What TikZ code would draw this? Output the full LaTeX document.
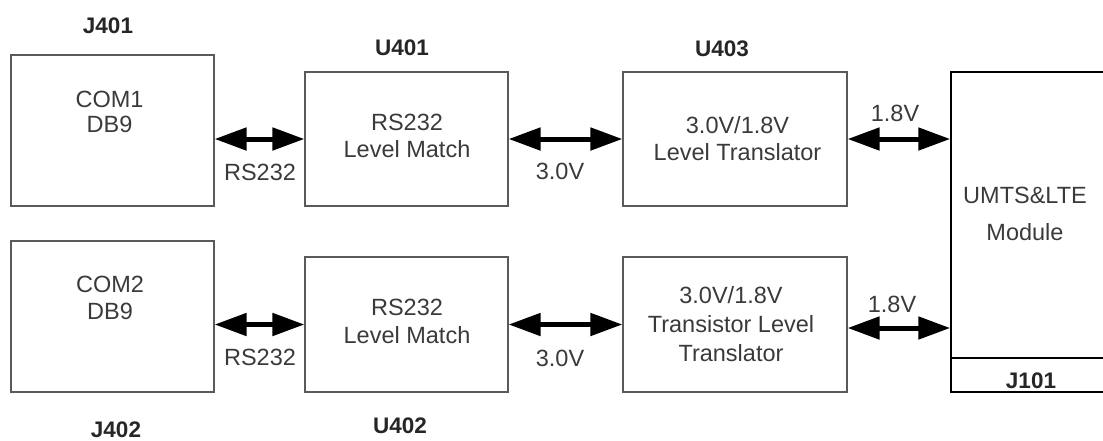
\documentclass[tikz,border=0pt]{standalone}
\usepackage{fontspec}
\setmainfont{Liberation Sans}
\usetikzlibrary{arrows.meta}
\definecolor{txt}{HTML}{3A3A3A}
\definecolor{boxline}{HTML}{5A5A5A}
\tikzset{
  blk/.style={draw=boxline, line width=1.2pt, inner sep=0pt, fill=none},
  modblk/.style={draw=black, line width=1.5pt, inner sep=0pt},
  tx/.style={anchor=base, inner sep=0pt, text=txt, font=\fontsize{23.5}{26}\selectfont},
  ref/.style={anchor=base, inner sep=0pt, text=black!85, font=\fontsize{22.5}{25}\selectfont\bfseries},
  biarrow/.style={line width=5pt, black, {Triangle[length=32pt,width=22pt]}-{Triangle[length=32pt,width=22pt]}}
}
\begin{document}
\begin{tikzpicture}[x=1pt,y=-1pt]
\path[use as bounding box] (0,0) rectangle (1103,440);
% boxes
\node[blk, minimum width=203pt, minimum height=151pt] (com1) at (112.5,130.5) {};
\node[blk, minimum width=203pt, minimum height=134pt] (u401) at (406.5,139) {};
\node[blk, minimum width=224pt, minimum height=134pt] (u403) at (735,139) {};
\node[blk, minimum width=203pt, minimum height=151pt] (com2) at (112.5,316.5) {};
\node[blk, minimum width=203pt, minimum height=135pt] (u402) at (406.5,324.5) {};
\node[blk, minimum width=224pt, minimum height=135pt] (u404) at (735,324.5) {};
\node[modblk, minimum width=159pt, minimum height=320pt] (umts) at (1030.5,232) {};
\coordinate (jsepL) at (951,358);
\draw[black, line width=1.5pt] (jsepL) -- (jsepL -| umts.east);
% reference designators
\node[ref] (j401) at (108,33) {J401};
\node[ref] (u401l) at (402,55) {U401};
\node[ref] (u403l) at (722,56) {U403};
\node[ref] (j402) at (116,437) {J402};
\node[ref] (u402l) at (400,433) {U402};
\node[ref] (j101) at (1031,388) {J101};
% box texts
\node[tx] (com1a) at (109.5,107) {COM1};
\node[tx] (com1b) at (109.5,132) {DB9};
\node[tx] (com2a) at (110,292) {COM2};
\node[tx] (com2b) at (110,319) {DB9};
\node[tx] (u401a) at (407,130) {RS232};
\node[tx] (u401b) at (407,157) {Level Match};
\node[tx] (u402a) at (407,315) {RS232};
\node[tx] (u402b) at (407,343) {Level Match};
\node[tx] (u403a) at (737.5,133) {3.0V/1.8V};
\node[tx] (u403b) at (737.5,160) {Level Translator};
\node[tx] (u404a) at (731,303) {3.0V/1.8V};
\node[tx] (u404b) at (731,332) {Transistor Level};
\node[tx] (u404c) at (731,361) {Translator};
\node[tx] (umtsa) at (1025,203) {UMTS\&LTE};
\node[tx] (umtsb) at (1025,240) {Module};
% connectors
\draw[biarrow] (com1.east |- u401.west) -- (u401.west);
\draw[biarrow] (u401.east) -- (u403.west);
\draw[biarrow] (u403.east) -- (umts.west |- u403.east);
\draw[biarrow] (com2.east |- u402.west) -- (u402.west);
\draw[biarrow] (u402.east) -- (u404.west);
\draw[biarrow] ([yshift=-3.5pt]u404.east) -- ([yshift=-3.5pt]umts.west |- u404.east);
% connector labels
\node[tx] (l1) at (260,180) {RS232};
\node[tx] (l2) at (560,179) {3.0V};
\node[tx] (l3) at (895,121) {1.8V};
\node[tx] (l4) at (260,365) {RS232};
\node[tx] (l5) at (560,366) {3.0V};
\node[tx] (l6) at (892,312) {1.8V};
\end{tikzpicture}
\end{document}
